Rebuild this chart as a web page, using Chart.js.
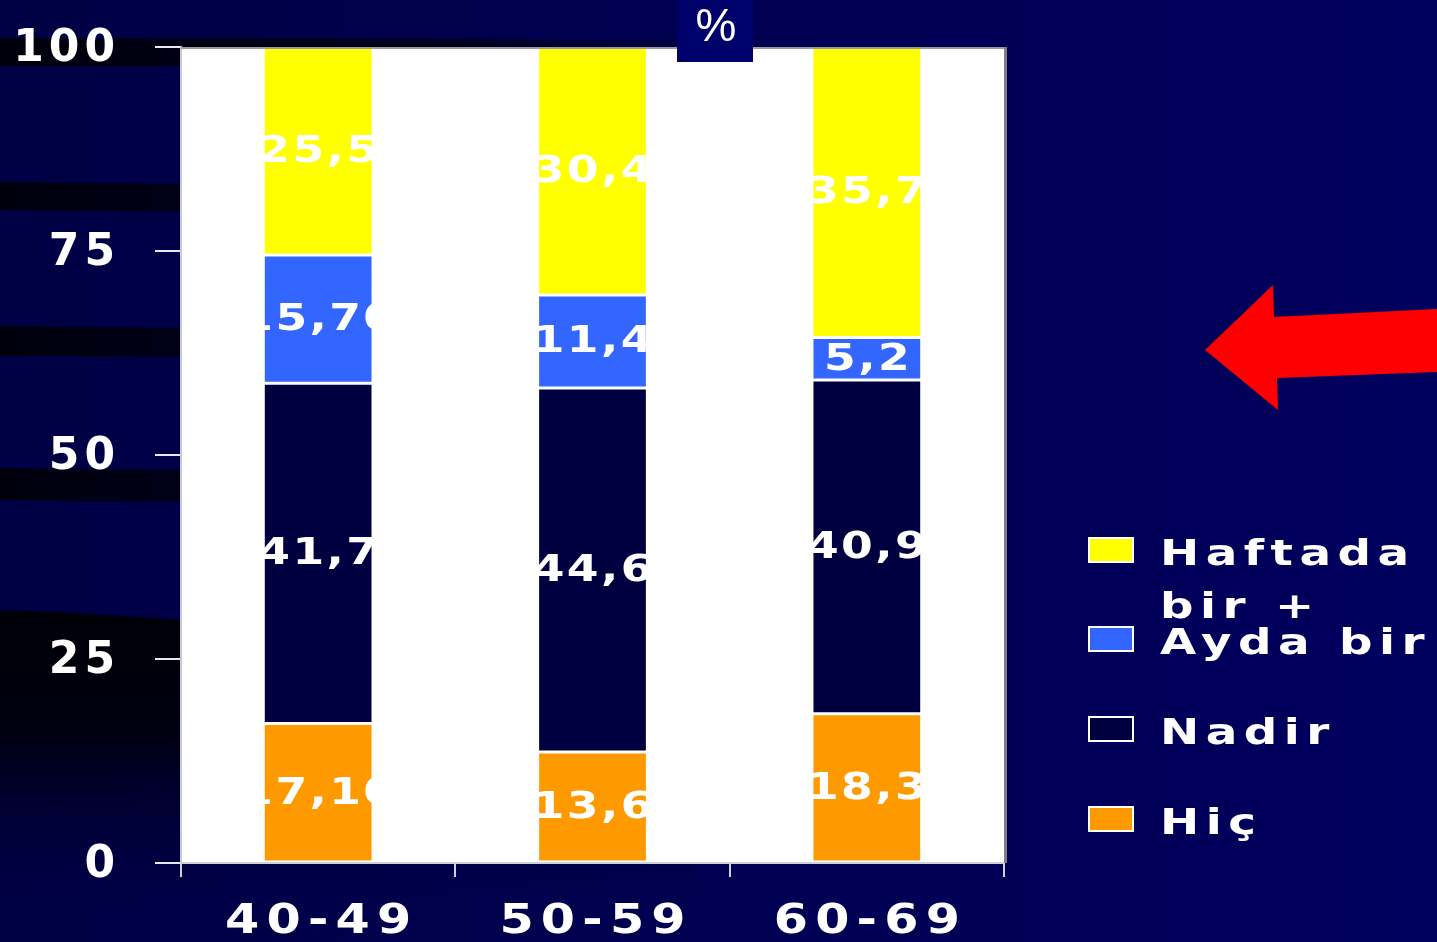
<!DOCTYPE html>
<html>
<head>
<meta charset="utf-8">
<script src="https://cdn.jsdelivr.net/npm/chart.js@4/dist/chart.umd.min.js"></script>
<style>
html,body{margin:0;padding:0;background:#00004e;overflow:hidden}
#wrap{width:1437px;height:942px;position:relative}
canvas{display:block}
</style>
</head>
<body>
<div id="wrap"><canvas id="c" width="1437" height="942"></canvas></div>
<script>
// ---- data ----
const categories = ['40-49', '50-59', '60-69'];
const seriesNames = ['Hiç', 'Nadir', 'Ayda bir', 'Haftada bir +'];
const hic = [17.1, 13.6, 18.3];
const nadir = [41.7, 44.6, 40.9];
const aydaBir = [15.7, 11.4, 5.2];
const haftadaBir = [25.5, 30.4, 35.7];
const hicLabels = ['17,10', '13,6', '18,3'];
const nadirLabels = ['41,7', '44,6', '40,9'];
const aydaBirLabels = ['15,70', '11,4', '5,2'];
const haftadaBirLabels = ['25,5', '30,4', '35,7'];
const yTicks = [0, 25, 50, 75, 100];
const unitLabel = '%';

const colors = ['#FF9900', '#000040', '#3366FF', '#FFFF00'];
const seriesValues = [hic, nadir, aydaBir, haftadaBir];
const seriesLabelText = [hicLabels, nadirLabels, aydaBirLabels, haftadaBirLabels];

// draw text horizontally stretched by sx with letter spacing ls, anchored (left) at x
function stretchedText(ctx, text, x, y, sx, ls) {
  ctx.save();
  ctx.translate(x, y);
  ctx.scale(sx, 1);
  ctx.letterSpacing = ls + 'px';
  ctx.fillText(text, 0, 0);
  ctx.restore();
}
function stretchedWidth(ctx, text, sx, ls) {
  ctx.save();
  ctx.letterSpacing = ls + 'px';
  const w = (ctx.measureText(text).width - ls) * sx;
  ctx.restore();
  return w;
}

const bgPlugin = {
  id: 'bg',
  beforeDraw(chart) {
    const ctx = chart.ctx, W = chart.width, H = chart.height;
    ctx.save();
    let g = ctx.createLinearGradient(0, 0, W, 0);
    g.addColorStop(0, '#000044');
    g.addColorStop(0.5, '#000052');
    g.addColorStop(1, '#00005e');
    ctx.fillStyle = g;
    ctx.fillRect(0, 0, W, H);
    // dark decorative bands on the left
    const bands = [
      [38, 66, 40, 66, 760],
      [182, 210, 186, 214, 420],
      [326, 356, 330, 358, 420],
      [468, 500, 472, 504, 420]
    ];
    bands.forEach(b => {
      const gr = ctx.createLinearGradient(0, 0, b[4], 0);
      gr.addColorStop(0, 'rgba(0,0,12,1)');
      gr.addColorStop(0.6, 'rgba(0,0,20,0.85)');
      gr.addColorStop(1, 'rgba(0,0,40,0)');
      ctx.fillStyle = gr;
      ctx.beginPath();
      ctx.moveTo(0, b[0]);
      ctx.lineTo(b[4], b[2]);
      ctx.lineTo(b[4], b[3]);
      ctx.lineTo(0, b[1]);
      ctx.closePath();
      ctx.fill();
    });
    // big dark region lower-left
    let gv = ctx.createLinearGradient(0, 610, 0, 910);
    gv.addColorStop(0, 'rgba(0,0,8,1)');
    gv.addColorStop(0.4, 'rgba(0,0,12,0.95)');
    gv.addColorStop(1, 'rgba(0,0,60,0)');
    ctx.fillStyle = gv;
    ctx.beginPath();
    ctx.moveTo(0, 610);
    ctx.quadraticCurveTo(300, 620, 700, 680);
    ctx.lineTo(700, 910);
    ctx.lineTo(0, 910);
    ctx.closePath();
    ctx.fill();
    // white plot area
    const a = chart.chartArea;
    ctx.fillStyle = '#ffffff';
    ctx.fillRect(a.left, a.top, a.right - a.left, a.bottom - a.top);
    ctx.restore();
  },
  afterDraw(chart) {
    const ctx = chart.ctx, a = chart.chartArea;
    ctx.save();
    // top and right border of plot
    ctx.strokeStyle = '#9a9a9a';
    ctx.lineWidth = 2;
    ctx.beginPath();
    ctx.moveTo(a.left, a.top + 1);
    ctx.lineTo(a.right, a.top + 1);
    ctx.stroke();
    ctx.strokeStyle = '#7f7f7f';
    ctx.lineWidth = 3;
    ctx.beginPath();
    ctx.moveTo(a.right + 1.5, a.top);
    ctx.lineTo(a.right + 1.5, a.bottom);
    ctx.stroke();
    // % box
    ctx.fillStyle = '#00006a';
    ctx.fillRect(677, 0, 76, 62);
    ctx.fillStyle = '#ffffff';
    ctx.font = '46px "Liberation Sans", Arial, sans-serif';
    ctx.textAlign = 'center';
    ctx.textBaseline = 'middle';
    ctx.fillText(unitLabel, 716, 28);
    // red arrow
    ctx.fillStyle = '#ff0000';
    ctx.beginPath();
    ctx.moveTo(1205, 350);
    ctx.lineTo(1273, 285);
    ctx.lineTo(1274, 317);
    ctx.lineTo(1437, 309);
    ctx.lineTo(1437, 372);
    ctx.lineTo(1277, 378);
    ctx.lineTo(1278, 410);
    ctx.closePath();
    ctx.fill();
    // legend (reverse order of stacking)
    const boxTops = [537, 626, 716, 806];
    const ds = chart.data.datasets.slice().reverse();
    ctx.font = 'bold 36px "DejaVu Sans", sans-serif';
    ctx.textAlign = 'left';
    ctx.textBaseline = 'alphabetic';
    const sx = 1.3, ls = 5;
    ds.forEach((d, i) => {
      const top = boxTops[i];
      ctx.fillStyle = d.backgroundColor;
      ctx.fillRect(1088, top, 46, 26);
      ctx.strokeStyle = '#ffffff';
      ctx.lineWidth = 2;
      ctx.strokeRect(1089, top + 1, 44, 24);
      const words = d.label.split(' ');
      const lines = [];
      let cur = '';
      words.forEach(w => {
        const t = cur ? cur + ' ' + w : w;
        if (cur && stretchedWidth(ctx, t, sx, ls) > 275) { lines.push(cur); cur = w; }
        else cur = t;
      });
      if (cur) lines.push(cur);
      ctx.fillStyle = '#ffffff';
      lines.forEach((ln, k) => stretchedText(ctx, ln, 1160, top + 28 + k * 53, sx, ls));
    });
    ctx.restore();
  },
  afterDatasetsDraw(chart) {
    const ctx = chart.ctx;
    ctx.save();
    ctx.font = 'bold 38px "DejaVu Sans", sans-serif';
    ctx.fillStyle = '#ffffff';
    ctx.textBaseline = 'middle';
    ctx.textAlign = 'left';
    const sx = 1.2, ls = 2;
    chart.data.datasets.forEach((d, di) => {
      const meta = chart.getDatasetMeta(di);
      meta.data.forEach((bar, i) => {
        const p = bar.getProps(['x', 'y', 'base', 'width'], true);
        const top = Math.min(p.y, p.base), h = Math.abs(p.base - p.y);
        ctx.save();
        ctx.beginPath();
        ctx.rect(p.x - p.width / 2, top, p.width, h);
        ctx.clip();
        const txt = seriesLabelText[di][i];
        const w = stretchedWidth(ctx, txt, sx, ls);
        stretchedText(ctx, txt, p.x - w / 2, top + h / 2 + 1, sx, ls);
        ctx.restore();
      });
    });
    ctx.restore();
  },
  afterUpdate(chart) {
    const wrap = (scale, sx, ls, dy) => {
      scale.drawLabels = function (area) {
        const ctx = this.ctx;
        const items = this.getLabelItems(area);
        ctx.save();
        for (const item of items) {
          const o = item.options;
          ctx.save();
          ctx.translate(o.translation[0], o.translation[1] + dy);
          ctx.scale(sx, 1);
          ctx.font = item.font.string;
          ctx.fillStyle = o.color;
          ctx.textBaseline = o.textBaseline;
          ctx.letterSpacing = ls + 'px';
          const w = ctx.measureText(item.label).width - ls;
          ctx.textAlign = 'left';
          let x0 = 0;
          if (o.textAlign === 'center') x0 = -w / 2;
          else if (o.textAlign === 'right') x0 = -w;
          ctx.fillText(item.label, x0, item.textOffset);
          ctx.restore();
        }
        ctx.restore();
      };
    };
    wrap(chart.scales.x, 1.2, 6, 3);
    wrap(chart.scales.y, 1.0, 5, 3);
  }
};

new Chart(document.getElementById('c'), {
  type: 'bar',
  data: {
    labels: categories,
    datasets: seriesNames.map((name, i) => ({
      label: name,
      data: seriesValues[i],
      backgroundColor: colors[i],
      borderColor: '#ffffff',
      borderWidth: 1.5,
      borderSkipped: false,
      barPercentage: 0.4,
      categoryPercentage: 1.0
    }))
  },
  options: {
    responsive: false,
    animation: false,
    devicePixelRatio: 1,
    layout: { padding: { top: 47, right: 433, left: 0, bottom: 0 } },
    plugins: { legend: { display: false }, tooltip: { enabled: false } },
    scales: {
      x: {
        stacked: true,
        grid: { offset: true, drawOnChartArea: false, color: '#d0d0d0', lineWidth: 2, tickLength: 14 },
        border: { display: true, color: '#d0d0d8', width: 2 },
        ticks: {
          color: '#ffffff',
          padding: 18,
          font: { family: '"DejaVu Sans", sans-serif', weight: 'bold', size: 41 }
        },
        afterFit(s) { s.height = 79; s.paddingLeft = 0; s.paddingRight = 0; }
      },
      y: {
        stacked: true,
        min: yTicks[0],
        max: yTicks[yTicks.length - 1],
        afterBuildTicks(s) { s.ticks = yTicks.map(v => ({ value: v })); },
        grid: { drawOnChartArea: false, color: '#e8e8f0', lineWidth: 2, tickLength: 26 },
        border: { display: true, color: '#c8c8d8', width: 2 },
        ticks: {
          color: '#ffffff',
          padding: 40,
          font: { family: '"DejaVu Sans", sans-serif', weight: 'bold', size: 44 }
        },
        afterFit(s) { s.width = 181; s.paddingTop = 0; s.paddingBottom = 0; }
      }
    }
  },
  plugins: [bgPlugin]
});
</script>
</body>
</html>
